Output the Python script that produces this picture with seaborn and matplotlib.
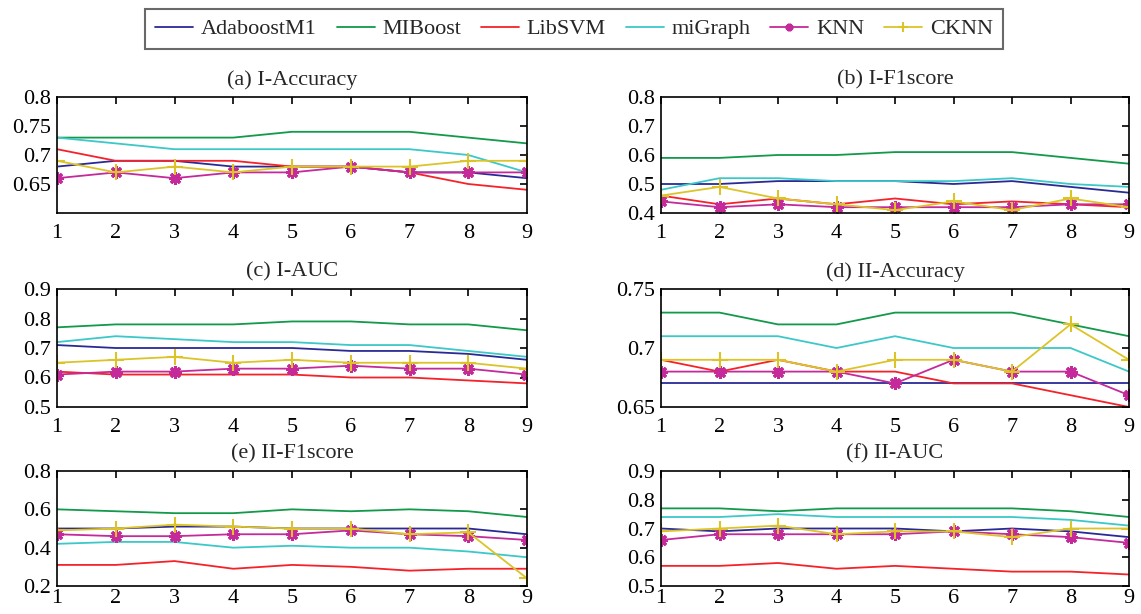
import matplotlib
matplotlib.use("Agg")
import matplotlib.pyplot as plt
import seaborn as sns
import numpy as np
import pandas as pd

sns.set_style("white")
plt.rcParams['font.family'] = ['Liberation Serif', 'DejaVu Serif']
plt.rcParams['mathtext.fontset'] = 'stix'

x_vals = [1, 2, 3, 4, 5, 6, 7, 8, 9]
methods = ["AdaboostM1", "MIBoost", "LibSVM", "miGraph", "KNN", "CKNN"]

# (a) I-Accuracy
a_ada = [0.68, 0.69, 0.69, 0.68, 0.68, 0.68, 0.67, 0.67, 0.66]
a_mib = [0.73, 0.73, 0.73, 0.73, 0.74, 0.74, 0.74, 0.73, 0.72]
a_svm = [0.71, 0.69, 0.69, 0.69, 0.68, 0.68, 0.67, 0.65, 0.64]
a_mig = [0.73, 0.72, 0.71, 0.71, 0.71, 0.71, 0.71, 0.70, 0.67]
a_knn = [0.66, 0.67, 0.66, 0.67, 0.67, 0.68, 0.67, 0.67, 0.67]
a_ckn = [0.69, 0.67, 0.68, 0.67, 0.68, 0.68, 0.68, 0.69, 0.69]

# (b) I-F1score
b_ada = [0.50, 0.50, 0.51, 0.51, 0.51, 0.50, 0.51, 0.49, 0.47]
b_mib = [0.59, 0.59, 0.60, 0.60, 0.61, 0.61, 0.61, 0.59, 0.57]
b_svm = [0.46, 0.43, 0.45, 0.43, 0.45, 0.43, 0.44, 0.43, 0.42]
b_mig = [0.48, 0.52, 0.52, 0.51, 0.51, 0.51, 0.52, 0.50, 0.49]
b_knn = [0.44, 0.42, 0.43, 0.42, 0.42, 0.42, 0.42, 0.43, 0.43]
b_ckn = [0.46, 0.49, 0.45, 0.43, 0.41, 0.44, 0.41, 0.45, 0.42]

# (c) I-AUC
c_ada = [0.71, 0.70, 0.70, 0.70, 0.70, 0.69, 0.69, 0.68, 0.66]
c_mib = [0.77, 0.78, 0.78, 0.78, 0.79, 0.79, 0.78, 0.78, 0.76]
c_svm = [0.62, 0.61, 0.61, 0.61, 0.61, 0.60, 0.60, 0.59, 0.58]
c_mig = [0.72, 0.74, 0.73, 0.72, 0.72, 0.71, 0.71, 0.69, 0.67]
c_knn = [0.61, 0.62, 0.62, 0.63, 0.63, 0.64, 0.63, 0.63, 0.61]
c_ckn = [0.65, 0.66, 0.67, 0.65, 0.66, 0.65, 0.65, 0.65, 0.63]

# (d) II-Accuracy
d_ada = [0.67, 0.67, 0.67, 0.67, 0.67, 0.67, 0.67, 0.67, 0.67]
d_mib = [0.73, 0.73, 0.72, 0.72, 0.73, 0.73, 0.73, 0.72, 0.71]
d_svm = [0.69, 0.68, 0.69, 0.68, 0.68, 0.67, 0.67, 0.66, 0.65]
d_mig = [0.71, 0.71, 0.71, 0.70, 0.71, 0.70, 0.70, 0.70, 0.68]
d_knn = [0.68, 0.68, 0.68, 0.68, 0.67, 0.69, 0.68, 0.68, 0.66]
d_ckn = [0.69, 0.69, 0.69, 0.68, 0.69, 0.69, 0.68, 0.72, 0.69]

# (e) II-F1score
e_ada = [0.50, 0.50, 0.51, 0.51, 0.50, 0.50, 0.50, 0.50, 0.47]
e_mib = [0.60, 0.59, 0.58, 0.58, 0.60, 0.59, 0.60, 0.59, 0.56]
e_svm = [0.31, 0.31, 0.33, 0.29, 0.31, 0.30, 0.28, 0.29, 0.29]
e_mig = [0.42, 0.43, 0.43, 0.40, 0.41, 0.40, 0.40, 0.38, 0.35]
e_knn = [0.47, 0.46, 0.46, 0.47, 0.47, 0.49, 0.47, 0.46, 0.44]
e_ckn = [0.49, 0.50, 0.52, 0.51, 0.50, 0.50, 0.47, 0.48, 0.24]

# (f) II-AUC
f_ada = [0.70, 0.69, 0.70, 0.70, 0.70, 0.69, 0.70, 0.69, 0.67]
f_mib = [0.77, 0.77, 0.76, 0.77, 0.77, 0.77, 0.77, 0.76, 0.74]
f_svm = [0.57, 0.57, 0.58, 0.56, 0.57, 0.56, 0.55, 0.55, 0.54]
f_mig = [0.74, 0.74, 0.75, 0.74, 0.74, 0.74, 0.74, 0.73, 0.71]
f_knn = [0.66, 0.68, 0.68, 0.68, 0.68, 0.69, 0.68, 0.67, 0.65]
f_ckn = [0.69, 0.70, 0.71, 0.68, 0.69, 0.69, 0.67, 0.70, 0.70]

titles = ["(a) I-Accuracy", "(b) I-F1score", "(c) I-AUC",
          "(d) II-Accuracy", "(e) II-F1score", "(f) II-AUC"]
panel_data = [
    [a_ada, a_mib, a_svm, a_mig, a_knn, a_ckn],
    [b_ada, b_mib, b_svm, b_mig, b_knn, b_ckn],
    [c_ada, c_mib, c_svm, c_mig, c_knn, c_ckn],
    [d_ada, d_mib, d_svm, d_mig, d_knn, d_ckn],
    [e_ada, e_mib, e_svm, e_mig, e_knn, e_ckn],
    [f_ada, f_mib, f_svm, f_mig, f_knn, f_ckn],
]
ylims = [(0.6, 0.8), (0.4, 0.8), (0.5, 0.9), (0.65, 0.75), (0.2, 0.8), (0.5, 0.9)]
yticks = [[0.65, 0.7, 0.75, 0.8], [0.4, 0.5, 0.6, 0.7, 0.8], [0.5, 0.6, 0.7, 0.8, 0.9],
          [0.65, 0.7, 0.75], [0.2, 0.4, 0.6, 0.8], [0.5, 0.6, 0.7, 0.8, 0.9]]
yticklabels = [["0.65", "0.7", "0.75", "0.8"], ["0.4", "0.5", "0.6", "0.7", "0.8"],
               ["0.5", "0.6", "0.7", "0.8", "0.9"], ["0.65", "0.7", "0.75"],
               ["0.2", "0.4", "0.6", "0.8"], ["0.5", "0.6", "0.7", "0.8", "0.9"]]

colors = {"AdaboostM1": "#2a2a96", "MIBoost": "#12994a", "LibSVM": "#f5222a",
          "miGraph": "#3cc8c8", "KNN": "#c42a9a", "CKNN": "#dcc428"}
markers = {"AdaboostM1": None, "MIBoost": None, "LibSVM": None, "miGraph": None,
           "KNN": (8, 2, 0), "CKNN": "+"}

fig = plt.figure(figsize=(11.41, 6.14), dpi=100)
W, H = 1141, 614
cols_px = [(57, 527), (661, 1129)]
rows_px = [(97, 213), (289, 407), (471, 586)]
positions = []
for r in range(3):
    for c in range(2):
        l, rr = cols_px[c]
        t, b = rows_px[r]
        positions.append([l / W, 1 - b / H, (rr - l) / W, (b - t) / H])

handles = []
for i in range(6):
    ax = fig.add_axes(positions[i])
    for m, vals in zip(methods, panel_data[i]):
        mk = markers[m]
        kw = dict(color=colors[m], linewidth=1.3)
        if mk is not None:
            kw.update(marker=mk, markersize=9 if m == "KNN" else 11,
                      markeredgewidth=2.2 if m == "KNN" else 1.5,
                      markeredgecolor=colors[m], markerfacecolor=colors[m])
        sns.lineplot(x=x_vals, y=vals, ax=ax, label=m, legend=False, **kw)
    ax.set_xlim(1, 9)
    ax.set_ylim(*ylims[i])
    ax.set_xticks(x_vals)
    ax.set_xticklabels([str(v) for v in x_vals])
    ax.set_yticks(yticks[i])
    ax.set_yticklabels(yticklabels[i])
    ax.tick_params(direction='in', top=True, right=True, length=5, width=1.2,
                   labelsize=16, colors='black')
    ax.tick_params(axis='x', pad=8 if i < 4 else 2)
    ax.tick_params(axis='y', pad=4)
    for s in ax.spines.values():
        s.set_color('black')
        s.set_linewidth(1.2)
    ax.set_title(titles[i], fontsize=16, pad=9)
    ax.set_xlabel("")
    ax.set_ylabel("")
    if i == 0:
        handles, labels = ax.get_legend_handles_labels()

leg = fig.legend(handles, labels, loc='center', bbox_to_anchor=(574 / W, 1 - 29 / H),
                 ncol=6, fontsize=16, frameon=True, fancybox=False, edgecolor='#444444',
                 handlelength=1.7, columnspacing=0.9, handletextpad=0.35,
                 borderpad=0.45, markerscale=0.6)
leg.get_frame().set_linewidth(1.5)

fig.savefig("out.png", dpi=100)
